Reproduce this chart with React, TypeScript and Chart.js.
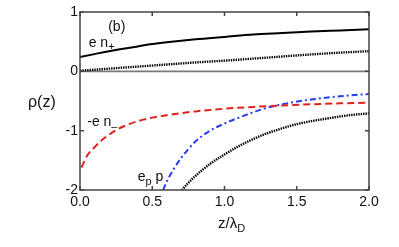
import React, { useEffect, useRef } from "react";
import { Chart, registerables } from "chart.js";

Chart.register(...registerables);

// ---- data ----
const xTicks = [0, 0.5, 1.0, 1.5, 2.0];
const yTicks = [-2, -1, 0, 1];

const enPlusZ = [0, 0.1, 0.2, 0.3, 0.4, 0.5, 0.6, 0.8, 1.0, 1.2, 1.4, 1.6, 1.8, 2.0];
const enPlusV = [0.24, 0.29, 0.34, 0.38, 0.42, 0.46, 0.49, 0.54, 0.58, 0.62, 0.645, 0.67, 0.69, 0.71];

const dotUpperZ = [0, 0.2, 0.4, 0.6, 0.8, 1.0, 1.2, 1.4, 1.6, 1.8, 2.0];
const dotUpperV = [0.01, 0.045, 0.08, 0.115, 0.15, 0.18, 0.215, 0.25, 0.285, 0.315, 0.34];

const enMinusZ = [0.01, 0.05, 0.1, 0.15, 0.2, 0.25, 0.3, 0.4, 0.5, 0.6, 0.7, 0.8, 0.9, 1.0, 1.2, 1.4, 1.6, 1.8, 2.0];
const enMinusV = [-1.62, -1.42, -1.28, -1.16, -1.07, -0.99, -0.93, -0.84, -0.78, -0.74, -0.705, -0.675, -0.65, -0.63, -0.6, -0.575, -0.555, -0.54, -0.53];

const epZ = [0.575, 0.6, 0.65, 0.7, 0.75, 0.8, 0.9, 1.0, 1.1, 1.2, 1.3, 1.4, 1.5, 1.6, 1.7, 1.8, 1.9, 2.0];
const epV = [-2.0, -1.86, -1.64, -1.46, -1.31, -1.18, -1.0, -0.88, -0.78, -0.69, -0.61, -0.555, -0.51, -0.475, -0.445, -0.42, -0.4, -0.38];

const dotLowerZ = [0.705, 0.75, 0.8, 0.9, 1.0, 1.1, 1.2, 1.3, 1.4, 1.5, 1.6, 1.7, 1.8, 1.9, 2.0];
const dotLowerV = [-2.0, -1.88, -1.76, -1.56, -1.4, -1.26, -1.14, -1.04, -0.96, -0.89, -0.84, -0.8, -0.76, -0.73, -0.71];

const FONT = "'Liberation Sans', Arial, Helvetica, sans-serif";

function pts(zs: number[], vs: number[]) {
  return zs.map((z, i) => ({ x: z, y: vs[i] }));
}

function subText(
  ctx: CanvasRenderingContext2D,
  x: number,
  y: number,
  parts: { t: string; sub?: boolean }[],
  size: number
) {
  let cx = x;
  for (const p of parts) {
    const s = p.sub ? Math.round(size * 0.75) : size;
    ctx.font = `${s}px ${FONT}`;
    ctx.fillText(p.t, cx, p.sub ? y + size * 0.3 : y);
    cx += ctx.measureText(p.t).width;
  }
}

const framePlugin = {
  id: "frame",
  beforeDatasetsDraw(chart: any) {
    const { ctx, chartArea: a, scales } = chart;
    const y0 = scales.y.getPixelForValue(0);
    ctx.save();
    ctx.strokeStyle = "#7a7a7a";
    ctx.lineWidth = 1.6;
    ctx.beginPath();
    ctx.moveTo(a.left, y0);
    ctx.lineTo(a.right, y0);
    ctx.stroke();
    ctx.restore();
  },
  afterDraw(chart: any) {
    const { ctx, chartArea: a, scales } = chart;
    ctx.save();
    ctx.strokeStyle = "#444";
    ctx.lineWidth = 1.5;
    ctx.strokeRect(a.left, a.top, a.right - a.left, a.bottom - a.top);
    const tl = 4;
    ctx.beginPath();
    for (const v of xTicks) {
      const px = scales.x.getPixelForValue(v);
      ctx.moveTo(px, a.bottom);
      ctx.lineTo(px, a.bottom - tl);
      ctx.moveTo(px, a.top);
      ctx.lineTo(px, a.top + tl);
    }
    for (const v of yTicks) {
      const py = scales.y.getPixelForValue(v);
      ctx.moveTo(a.left, py);
      ctx.lineTo(a.left + tl, py);
      ctx.moveTo(a.right, py);
      ctx.lineTo(a.right - tl, py);
    }
    ctx.stroke();

    ctx.fillStyle = "#111";
    ctx.textBaseline = "middle";
    ctx.textAlign = "left";
    const X = (v: number) => scales.x.getPixelForValue(v);
    const Y = (v: number) => scales.y.getPixelForValue(v);
    subText(ctx, X(0.195), Y(0.74), [{ t: "(b)" }], 14);
    subText(ctx, X(0.06), Y(0.48), [{ t: "e n" }, { t: "+", sub: true }], 14);
    subText(ctx, X(0.05), Y(-0.86), [{ t: "-e n" }, { t: "–", sub: true }], 14);
    subText(ctx, X(0.40), Y(-1.79), [{ t: "e" }, { t: "p", sub: true }, { t: " p" }], 14);
    // axis titles
    subText(ctx, 28, 103, [{ t: "ρ(z)" }], 16);
    subText(ctx, 218, 224, [{ t: "z/λ" }, { t: "D", sub: true }], 15);
    ctx.restore();
  },
};

export default function App() {
  const ref = useRef<HTMLCanvasElement>(null);
  useEffect(() => {
    document.body.style.margin = "0";
    const chart = new Chart(ref.current as HTMLCanvasElement, {
      type: "line",
      data: {
        datasets: [
          {
            data: pts(enPlusZ, enPlusV),
            borderColor: "#000",
            borderWidth: 2,
          },
          {
            data: pts(dotUpperZ, dotUpperV),
            borderColor: "#000",
            borderWidth: 2.4,
            borderDash: [1.4, 1],
          },
          {
            data: pts(enMinusZ, enMinusV),
            borderColor: "#e3211c",
            borderWidth: 2,
            borderDash: [7, 4],
          },
          {
            data: pts(epZ, epV),
            borderColor: "#2a3ef0",
            borderWidth: 2,
            borderDash: [6, 3, 2, 3],
          },
          {
            data: pts(dotLowerZ, dotLowerV),
            borderColor: "#000",
            borderWidth: 2.4,
            borderDash: [1.4, 1],
          },
        ],
      },
      options: {
        animation: false,
        responsive: false,
        parsing: false as any,
        elements: {
          point: { radius: 0 },
          line: { tension: 0.4, cubicInterpolationMode: "monotone", fill: false },
        },
        layout: { padding: { top: 12, right: 30, left: 0, bottom: 0 } },
        plugins: { legend: { display: false }, tooltip: { enabled: false } },
        scales: {
          x: {
            type: "linear",
            min: 0,
            max: 2,
            afterBuildTicks: (s: any) => {
              s.ticks = xTicks.map((v) => ({ value: v }));
            },
            afterFit: (s: any) => {
              s.height = 57;
            },
            grid: { display: false, drawTicks: false },
            border: { display: false },
            ticks: {
              padding: 4,
              color: "#111",
              font: { family: FONT, size: 14 },
              callback: (v: any) => Number(v).toFixed(1),
            },
          },
          y: {
            type: "linear",
            min: -2,
            max: 1,
            afterBuildTicks: (s: any) => {
              s.ticks = yTicks.map((v) => ({ value: v }));
            },
            afterFit: (s: any) => {
              s.width = 80;
            },
            grid: { display: false, drawTicks: false },
            border: { display: false },
            ticks: {
              padding: 2,
              color: "#111",
              font: { family: FONT, size: 14 },
              callback: (v: any) => String(v),
            },
          },
        },
      },
      plugins: [framePlugin],
    });
    return () => chart.destroy();
  }, []);
  return (
    <div style={{ position: "absolute", left: 0, top: 0, width: 399, height: 247 }}>
      <canvas ref={ref} width={399} height={247} style={{ display: "block" }} />
    </div>
  );
}
